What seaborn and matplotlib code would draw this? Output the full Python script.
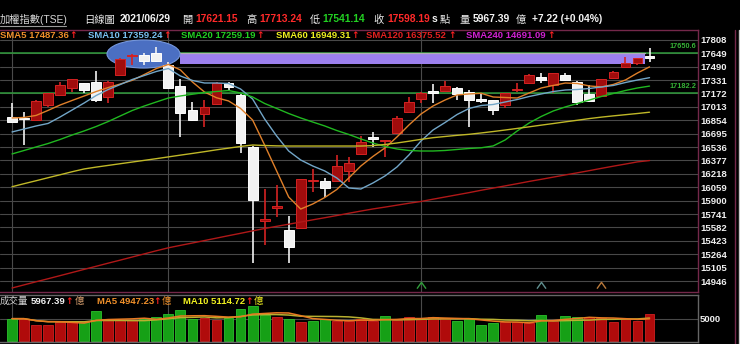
import numpy as np
import pandas as pd
import matplotlib
matplotlib.use("Agg")
import matplotlib.pyplot as plt
import seaborn as sns
from matplotlib.patches import Ellipse, Rectangle
from matplotlib.path import Path
from matplotlib.lines import Line2D

# ---------------- data ----------------
opens = [16889, 16881, 16857, 17035, 17154, 17233, 17293, 17312, 17126, 17391,
         17611, 17629, 17656, 17510, 17261, 16976, 16928, 17047, 17293, 17154,
         16537, 15658, 15818, 15551, 15572, 16127, 16137, 16137, 16255, 16453,
         16655, 16602, 16699, 16956, 17103, 17201, 17205, 17233, 17193, 17103,
         17094, 17035, 17213, 17293, 17364, 17273, 17391, 17312, 17166, 17142,
         17352, 17483, 17537, 17621.15]
highs = [17055, 16956, 17090, 17178, 17305, 17344, 17296, 17442, 17314, 17587,
         17640, 17649, 17720, 17549, 17340, 17074, 17094, 17308, 17312, 17166,
         16548, 16034, 16085, 15721, 16157, 16281, 16165, 16442, 16414, 16667,
         16718, 16616, 16905, 17126, 17193, 17284, 17324, 17252, 17213, 17181,
         17100, 17178, 17293, 17397, 17411, 17415, 17419, 17320, 17273, 17344,
         17433, 17608, 17593, 17713.24]
lows = [16818, 16560, 16845, 17015, 17148, 17193, 17181, 17074, 17062, 17385,
        17510, 17510, 17549, 17225, 16659, 16845, 16770, 17035, 17205, 16469,
        15163, 15373, 15709, 15156, 15563, 16006, 15947, 16133, 16125, 16442,
        16533, 16421, 16691, 16952, 17062, 17062, 17201, 17094, 16778, 17062,
        16916, 16996, 17193, 17284, 17293, 17174, 17326, 17035, 17071, 17136,
        17350, 17480, 17510, 17541.14]
closes = [16837, 16869, 17086, 17174, 17273, 17340, 17213, 17094, 17312, 17581,
          17623, 17561, 17557, 17233, 16944, 16857, 17015, 17300, 17252, 16588,
          15907, 15676, 15836, 15353, 16153, 16139, 16046, 16311, 16350, 16600,
          16637, 16614, 16877, 17074, 17174, 17183, 17261, 17166, 17094, 17083,
          16976, 17174, 17225, 17391, 17332, 17411, 17332, 17074, 17085, 17340,
          17430, 17530, 17590.97, 17598.19]
volumes = [4984, 4984, 3665, 3665, 4251, 4251, 4251, 6597, 4618, 4618,
           4618, 4984, 5351, 6084, 6817, 4838, 5131, 4618, 5204, 7183,
           7770, 5864, 5351, 4984, 4251, 4545, 4984, 4398, 4398, 4984,
           4398, 5571, 4765, 5351, 4984, 5351, 5131, 4398, 4984, 3665,
           4032, 4251, 4251, 4105, 5800, 4450, 5560, 5250, 5350, 5200,
           4250, 4850, 4470, 5967.39]

sma5 = [16881, 16887, 16911, 16971, 17035, 17089, 17142, 17195, 17242, 17284,
        17328, 17397, 17468, 17516, 17451, 17308, 17189, 17121, 17083, 16994,
        16857, 16560, 16252, 15943, 15800, 15860, 15937, 16032, 16169, 16311,
        16424, 16525, 16655, 16798, 16928, 17023, 17094, 17154, 17166, 17174,
        17130, 17124, 17118, 17178, 17237, 17267, 17296, 17290, 17261, 17249,
        17279, 17332, 17415, 17487.36]
sma10 = [16715, 16750, 16786, 16816, 16893, 16976, 17059, 17148, 17219, 17278,
         17338, 17385, 17433, 17468, 17379, 17326, 17296, 17296, 17290, 17225,
         17106, 16869, 16667, 16489, 16382, 16311, 16252, 16169, 16050, 16038,
         16109, 16192, 16299, 16442, 16608, 16738, 16827, 16922, 16994, 17029,
         17041, 17071, 17100, 17136, 17166, 17195, 17213, 17219, 17231, 17249,
         17267, 17302, 17332, 17359.24]
sma20 = [16454, 16495, 16537, 16578, 16626, 16679, 16727, 16780, 16839, 16905,
         16970, 17023, 17071, 17118, 17142, 17163, 17184, 17195, 17207, 17178,
         17130, 17053, 16994, 16934, 16881, 16833, 16786, 16732, 16685, 16632,
         16584, 16543, 16513, 16495, 16489, 16489, 16495, 16507, 16519, 16527,
         16549, 16620, 16727, 16822, 16899, 16964, 17012, 17053, 17094, 17136,
         17172, 17207, 17237, 17259.19]
sma60 = [16065, 16101, 16136, 16172, 16207, 16243, 16276, 16298, 16318, 16338,
         16358, 16378, 16398, 16419, 16440, 16460, 16481, 16503, 16523, 16543,
         16560, 16554, 16550, 16548, 16548, 16548, 16548, 16548, 16548, 16548,
         16553, 16566, 16584, 16605, 16627, 16647, 16661, 16675, 16687, 16703,
         16720, 16738, 16757, 16776, 16796, 16815, 16835, 16854, 16874, 16891,
         16906, 16920, 16934, 16949.31]
sma120 = [14863, 14900, 14937, 14973, 15010, 15047, 15084, 15121, 15158, 15194,
          15231, 15268, 15305, 15340, 15369, 15397, 15426, 15455, 15484, 15512,
          15541, 15569, 15595, 15620, 15646, 15672, 15697, 15723, 15750, 15776,
          15801, 15823, 15846, 15869, 15890, 15917, 15943, 15969, 15995, 16023,
          16049, 16075, 16101, 16128, 16153, 16179, 16205, 16230, 16256, 16283,
          16309, 16334, 16360, 16375.52]
sma240_last = 14691.09
vol_ma_last = [4947.23, 5114.72]

ytick_vals = [17808, 17649, 17490, 17331, 17172, 17013, 16854, 16695, 16536, 16377,
              16218, 16059, 15900, 15741, 15582, 15423, 15264, 15105, 14946]
vol_ticks = [5000]
month_starts = [0, 13, 34]
ref_levels = [17650.6, 17182.2]
signal_idx = [34, 44, 49]
signal_colors = ['#2f9e3a', '#5f8f8f', '#b8783a']
date_str = '2021/06/29'

# ---------------- style ----------------
sns.set_theme(style='dark', rc={'axes.facecolor': 'black', 'figure.facecolor': 'black'})
plt.rcParams['font.family'] = ['Liberation Sans', 'Noto Sans CJK TC', 'DejaVu Sans']

W, H = 740, 344
fig = plt.figure(figsize=(W / 100, H / 100), dpi=100, facecolor='black')
ax = fig.add_axes([0, 1 - 292 / H, 698 / W, (292 - 30) / H])
axv = fig.add_axes([0, 1 - 341.5 / H, 698 / W, (341.5 - 295) / H])
for a in (ax, axv):
    a.set_facecolor('black')
    a.set_xlim(-1.0, 57.03)

idx = np.arange(len(closes))
o = np.array(opens, float); c = np.array(closes, float)
h = np.array(highs, float); l = np.array(lows, float)
up = c >= o

# grid
ax.set_ylim(14815.5, 17925)
ax.yaxis.tick_right()
ax.set_yticks(ytick_vals)
ax.set_yticklabels([str(v) for v in ytick_vals])
ax.set_xticks([])
ax.grid(True, axis='y', color='#484848', lw=0.8, zorder=0)
ax.grid(False, axis='x')
for m in month_starts:
    ax.axvline(m, color='#4a4a4a', lw=0.8, zorder=0.5)
    axv.axvline(m, color='#4a4a4a', lw=0.8, zorder=0.5)
ax.tick_params(axis='y', length=0, pad=1.5, labelsize=6.8, labelcolor='#f0f0f0')
for t in ax.get_yticklabels():
    t.set_fontweight('bold')

# reference levels
for lv in ref_levels:
    ax.axhline(lv, color='#2e9a3a', lw=1.1, zorder=1)
    ax.text(56.9, lv + 35, f'{lv:.1f}', color='#35b035', fontsize=5.3,
            fontweight='bold', ha='right', va='bottom', zorder=6)

# highlight band and ellipse
band = Rectangle((13.97, 17522), 38.63, 134, facecolor='#9c80ee', edgecolor='none', zorder=1.5)
ax.add_patch(band)
ax.plot([13.97, 52.6], [17656, 17656], color='#b0b0b0', lw=0.9, zorder=1.6)
ax.add_patch(Ellipse((10.93, 17640), 6.07, 333, facecolor='#4b6fc2', edgecolor='#7597dc',
                     lw=0.8, zorder=2))

# candles
wick_col = np.where(up, '#d42222', '#f2f2f2')
face = np.where(up, '#a00c0c', '#f2f2f2')
edge = np.where(up, '#d42222', '#ffffff')
ax.vlines(idx, l, h, colors=wick_col, lw=1.2, zorder=3)
body_b = np.minimum(o, c)
body_h = np.maximum(np.abs(c - o), 12)
ax.bar(idx, body_h, bottom=body_b, width=0.82, color=face, edgecolor=edge, lw=0.7, zorder=3.5)

# moving averages
ma_df = pd.DataFrame({'i': idx, 'SMA5': sma5, 'SMA10': sma10, 'SMA20': sma20,
                      'SMA60': sma60, 'SMA120': sma120})
ma_colors = {'SMA5': '#e0802a', 'SMA10': '#72a6c8', 'SMA20': '#20b820',
             'SMA60': '#c0b828', 'SMA120': '#b01818'}
for name, col in ma_colors.items():
    sns.lineplot(data=ma_df, x='i', y=name, ax=ax, color=col, lw=1.0, zorder=4,
                 estimator=None, legend=False)
ax.set_xlabel(''); ax.set_ylabel('')
ax.set_xlim(-1.0, 57.03)

# signal chevrons at bottom
chev = Path([(-1, -0.7), (0, 0.7), (1, -0.7)], [Path.MOVETO, Path.LINETO, Path.LINETO])
for si, sc in zip(signal_idx, signal_colors):
    ax.plot([si], [0.025], marker=chev, markersize=6.5, markerfacecolor='none',
            markeredgecolor=sc, markeredgewidth=1.0, linestyle='none',
            transform=ax.get_xaxis_transform(), zorder=5)

ax.spines['left'].set_visible(False)
for s in ['top', 'right', 'bottom']:
    ax.spines[s].set_color('#74284a'); ax.spines[s].set_linewidth(1.0)

# volume panel
vol = np.array(volumes, float)
prev = np.r_[o[0], c[:-1]]
vup = c >= prev
axv.bar(idx, vol, width=0.82, color=np.where(vup, '#b00b0b', '#16a016'),
        edgecolor=np.where(vup, '#cf2020', '#2cc02c'), lw=0.6, zorder=2)
vs = pd.Series(vol)
vdf = pd.DataFrame({'i': idx, 'ma5': vs.rolling(5, min_periods=1).mean(),
                    'ma10': vs.rolling(10, min_periods=1).mean()})
sns.lineplot(data=vdf, x='i', y='ma10', ax=axv, color='#b8b030', lw=1.1, zorder=3, legend=False)
sns.lineplot(data=vdf, x='i', y='ma5', ax=axv, color='#e87a22', lw=1.1, zorder=3.2, legend=False)
axv.set_xlabel(''); axv.set_ylabel('')
axv.set_xlim(-1.0, 57.03)
axv.set_ylim(-40, 10190)
axv.yaxis.tick_right()
axv.set_yticks(vol_ticks)
axv.set_yticklabels([str(v) for v in vol_ticks])
axv.set_xticks([])
axv.grid(True, axis='y', color='#484848', lw=0.8, zorder=0)
axv.tick_params(axis='y', length=0, pad=1.5, labelsize=6.8, labelcolor='#f0f0f0')
for t in axv.get_yticklabels():
    t.set_fontweight('bold')
axv.spines['left'].set_visible(False)
for s in ['top', 'right', 'bottom']:
    axv.spines[s].set_color('#666666'); axv.spines[s].set_linewidth(1.0)

# outer frame lines at right
fig.add_artist(Line2D([735 / W, 735 / W], [0, 1 - 30 / H], color='#74284a', lw=1.0))
fig.add_artist(Line2D([738.5 / W, 738.5 / W], [0, 1 - 30 / H], color='#c8c8c8', lw=1.0))


# ---------------- header texts ----------------
def ftxt(x, y, s, color, size=7.4, weight='normal', family=None, ha='left'):
    kw = {} if family is None else {'family': family}
    fig.text(x / W, 1 - y / H, s, color=color, fontsize=size, fontweight=weight,
             ha=ha, va='center', **kw)


def arrow(xc, y):
    ftxt(xc, y, '↑', '#ff2020', size=6.5, weight='bold', family=['DejaVu Sans'], ha='center')


chg = c[-1] - c[-2]
y1 = 19.5
ftxt(0, y1, '加權指數(TSE)', '#d6d6d6')
fig.add_artist(Line2D([0, 66 / W], [1 - 25.5 / H] * 2, color='#9a9a9a', lw=0.8))
ftxt(84, y1, '日線圖', '#ececec')
ftxt(120, y1, date_str, '#f4f4f4', weight='bold')
ftxt(182, y1, '開', '#ececec')
ftxt(195, y1, f'{opens[-1]:.2f}', '#ff2a2a', weight='bold')
ftxt(246, y1, '高', '#ececec')
ftxt(259, y1, f'{highs[-1]:.2f}', '#ff2a2a', weight='bold')
ftxt(310, y1, '低', '#ececec')
ftxt(322, y1, f'{lows[-1]:.2f}', '#22d022', weight='bold')
ftxt(373, y1, '收', '#ececec')
ftxt(387, y1, f'{closes[-1]:.2f}', '#ff2a2a', weight='bold')
ftxt(432, y1, 's', '#f4f4f4', weight='bold')
ftxt(440, y1, '點', '#ececec')
ftxt(460, y1, '量', '#ececec')
ftxt(473, y1, f'{volumes[-1]:.2f}', '#f4f4f4', weight='bold')
ftxt(516, y1, '億', '#ececec')
ftxt(532, y1, f'{chg:+.2f} ({chg / c[-2] * 100:+.2f}%)', '#f4f4f4', weight='bold')

y2 = 35.5
row2 = [(0, 73.5, 'SMA5', sma5[-1], '#f0902a'),
        (88, 167.5, 'SMA10', sma10[-1], '#78c0f0'),
        (181, 260.5, 'SMA20', sma20[-1], '#22d022'),
        (276, 355.5, 'SMA60', sma60[-1], '#f0f020'),
        (366, 452.5, 'SMA120', sma120[-1], '#e22020'),
        (466, 551.5, 'SMA240', sma240_last, '#d020d0')]
for x0, xa, nm, val, col in row2:
    ftxt(x0, y2, f'{nm} {val:.2f}', col, size=6.8, weight='bold')
    arrow(xa, y2)

y3 = 301
ftxt(0, y3, '成交量', '#d0d0d0', size=6.8)
ftxt(31, y3, f'{volumes[-1]:.2f}', '#f4f4f4', size=6.8, weight='bold')
arrow(69.5, y3)
ftxt(74.5, y3, '億', '#d8a070', size=6.8)
ftxt(97, y3, f'MA5 {vol_ma_last[0]:.2f}', '#f0902a', size=6.8, weight='bold')
arrow(157.5, y3)
ftxt(162, y3, '億', '#f0902a', size=6.8)
ftxt(183, y3, f'MA10 {vol_ma_last[1]:.2f}', '#f0f020', size=6.8, weight='bold')
arrow(249, y3)
ftxt(253.5, y3, '億', '#f0f020', size=6.8)

fig.savefig('out.png', dpi=100, facecolor='black')
